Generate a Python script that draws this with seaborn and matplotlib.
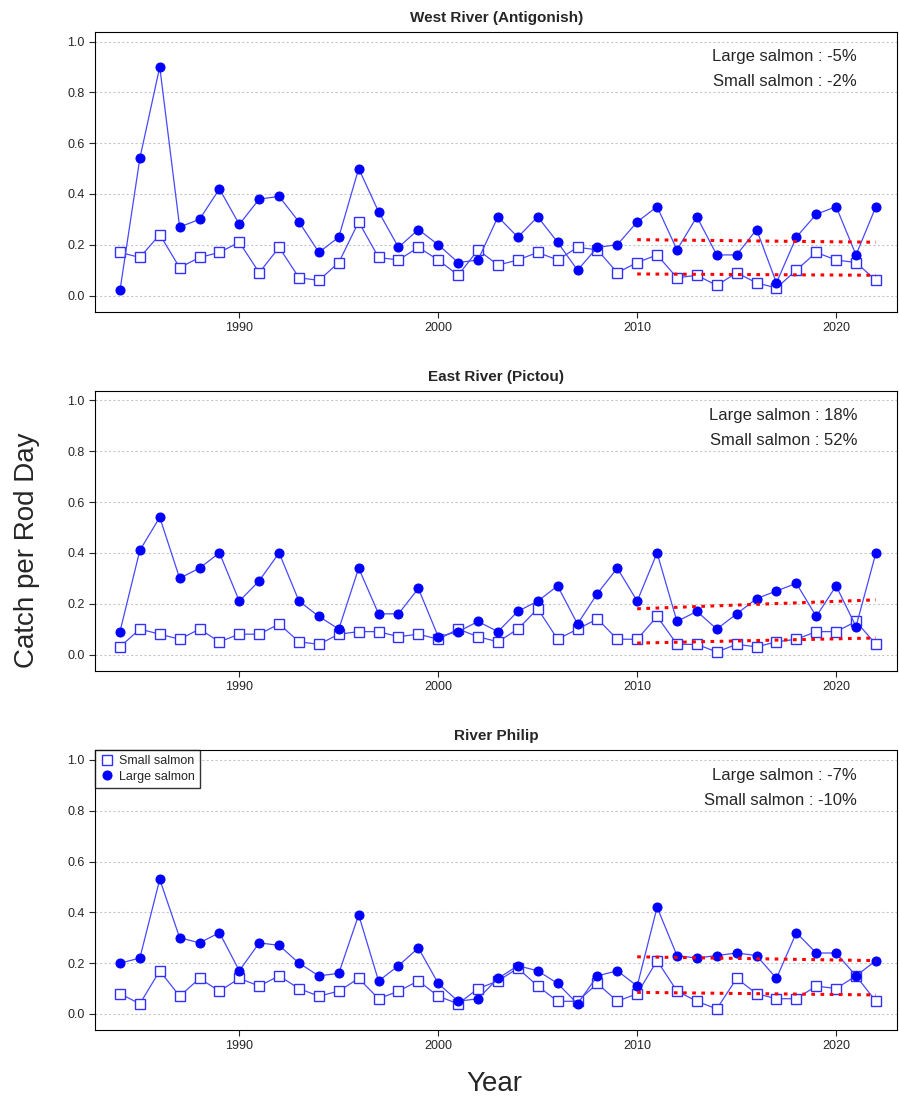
import numpy as np
import pandas as pd
import seaborn as sns
import matplotlib.pyplot as plt

years = list(range(1984, 2023))

# West River (Antigonish)
west_large = [.02, .54, .90, .27, .30, .42, .28, .38, .39, .29, .17, .23, .50, .33, .19, .26, .20, .13, .14, .31,
              .23, .31, .21, .10, .19, .20, .29, .35, .18, .31, .16, .16, .26, .05, .23, .32, .35, .16, .35]
west_small = [.17, .15, .24, .11, .15, .17, .21, .09, .19, .07, .06, .13, .29, .15, .14, .19, .14, .08, .18, .12,
              .14, .17, .14, .19, .18, .09, .13, .16, .07, .08, .04, .09, .05, .03, .10, .17, .14, .13, .06]
# East River (Pictou)
east_large = [.09, .41, .54, .30, .34, .40, .21, .29, .40, .21, .15, .10, .34, .16, .16, .26, .07, .09, .13, .09,
              .17, .21, .27, .12, .24, .34, .21, .40, .13, .17, .10, .16, .22, .25, .28, .15, .27, .11, .40]
east_small = [.03, .10, .08, .06, .10, .05, .08, .08, .12, .05, .04, .08, .09, .09, .07, .08, .06, .10, .07, .05,
              .10, .18, .06, .10, .14, .06, .06, .15, .04, .04, .01, .04, .03, .05, .06, .09, .09, .13, .04]
# River Philip
philip_large = [.20, .22, .53, .30, .28, .32, .17, .28, .27, .20, .15, .16, .39, .13, .19, .26, .12, .05, .06, .14,
                .19, .17, .12, .04, .15, .17, .11, .42, .23, .22, .23, .24, .23, .14, .32, .24, .24, .15, .21]
philip_small = [.08, .04, .17, .07, .14, .09, .14, .11, .15, .10, .07, .09, .14, .06, .09, .13, .07, .04, .10, .13,
                .18, .11, .05, .05, .12, .05, .08, .21, .09, .05, .02, .14, .08, .06, .06, .11, .10, .15, .05]

titles = ["West River (Antigonish)", "East River (Pictou)", "River Philip"]
large_series = [west_large, east_large, philip_large]
small_series = [west_small, east_small, philip_small]
large_pct = ["-5%", "18%", "-7%"]
small_pct = ["-2%", "52%", "-10%"]
trend_years = [2010, 2022]
large_trend = [[.22, .21], [.18, .215], [.225, .21]]
small_trend = [[.085, .08], [.045, .065], [.085, .075]]

sns.set_style("white")
plt.rcParams['font.family'] = ['Liberation Sans', 'DejaVu Sans']

fig = plt.figure(figsize=(8.99, 11.01), dpi=100)
bottoms = [0.717, 0.391, 0.0645]

for i in range(3):
    ax = fig.add_axes([0.106, bottoms[i], 0.892, 0.2543])
    df = pd.DataFrame({"year": years, "large": large_series[i], "small": small_series[i]})
    for y in np.arange(0, 1.01, 0.2):
        ax.axhline(y, color="#c8c8c8", lw=0.8, ls=(0, (2, 2)), zorder=0)
    sns.lineplot(data=df, x="year", y="small", ax=ax, color="#4848ff", lw=0.9, marker="s", ms=7,
                 markerfacecolor="white", markeredgecolor="#3030ff", markeredgewidth=1.0, label="Small salmon")
    sns.lineplot(data=df, x="year", y="large", ax=ax, color="#4848ff", lw=0.9, marker="o", ms=6.5,
                 markerfacecolor="#0000ff", markeredgecolor="#0000ff", label="Large salmon")
    ax.plot(trend_years, large_trend[i], color="red", lw=2.2, ls=(0, (1.2, 1.8)))
    ax.plot(trend_years, small_trend[i], color="red", lw=2.2, ls=(0, (1.2, 1.8)))
    ax.set_xlim(1982.76, 2023.07)
    ax.set_ylim(-0.063, 1.039)
    ax.set_yticks([0, 0.2, 0.4, 0.6, 0.8, 1.0])
    ax.set_yticklabels(["0.0", "0.2", "0.4", "0.6", "0.8", "1.0"])
    ax.set_xticks([1990, 2000, 2010, 2020])
    ax.tick_params(axis="both", labelsize=9, length=4, direction="out", bottom=True, left=True)
    ax.set_xlabel("")
    ax.set_ylabel("")
    for s in ax.spines.values():
        s.set_color("black")
        s.set_linewidth(0.8)
    ax.set_title(titles[i], fontsize=11, fontweight="bold", pad=7)
    ax.text(0.95, 0.91, f"Large salmon : {large_pct[i]}", transform=ax.transAxes, ha="right", va="center", fontsize=12)
    ax.text(0.95, 0.82, f"Small salmon : {small_pct[i]}", transform=ax.transAxes, ha="right", va="center", fontsize=12)
    if i == 2:
        leg = ax.legend(loc="upper left", fontsize=9, frameon=True, fancybox=False, borderaxespad=0,
                        handlelength=1.0, handletextpad=0.5, borderpad=0.4, labelspacing=0.3)
        leg.get_frame().set_edgecolor("black")
        for h in leg.get_lines():
            h.set_linestyle("none")
    else:
        ax.get_legend().remove()

fig.text(0.03, 0.5, "Catch per Rod Day", rotation=90, ha="center", va="center", fontsize=20)
fig.text(0.55, 0.015, "Year", ha="center", va="center", fontsize=20)
fig.savefig("out.png", dpi=100)
